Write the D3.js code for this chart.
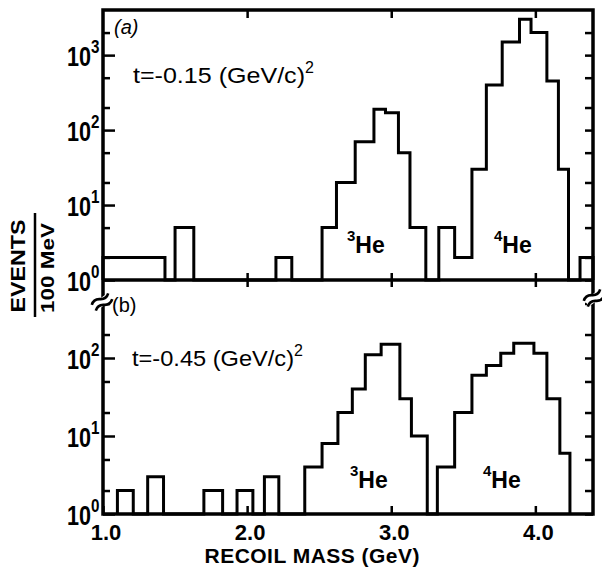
<!DOCTYPE html>
<html><head><meta charset="utf-8">
<script src="https://cdn.jsdelivr.net/npm/d3@7"></script>
<style>body{margin:0;background:#fff} svg{display:block}</style>
</head><body>
<svg id="c" width="602" height="575"></svg>
<script>
// ---- data ----
const xTicks = [1.0, 2.0, 3.0, 4.0];
const xTickLabels = ["1.0", "2.0", "3.0", "4.0"];
// panel (a): t = -0.15 (GeV/c)^2 ; bin edges in GeV and events per bin
const topEdges  = [1.00, 1.43, 1.50, 1.63, 2.20, 2.31, 2.52, 2.62, 2.75, 2.88, 2.96, 3.05, 3.13, 3.24,
                   3.33, 3.44, 3.56, 3.66, 3.77, 3.89, 3.97, 4.08, 4.16, 4.23, 4.31, 4.40];
const topCounts = [2, 0, 5, 0, 2, 0, 5, 20, 70, 190, 170, 50, 5, 0,
                   5, 2, 30, 400, 1500, 3000, 2000, 450, 30, 0, 2];
// panel (b): t = -0.45 (GeV/c)^2
const botEdges  = [1.10, 1.21, 1.31, 1.42, 1.70, 1.83, 1.93, 2.04, 2.12, 2.22, 2.40, 2.52, 2.63, 2.73,
                   2.82, 2.93, 3.06, 3.14, 3.25, 3.32, 3.44, 3.56, 3.66, 3.76, 3.85, 3.99, 4.08, 4.17, 4.24];
const botCounts = [2, 0, 3, 0, 2, 0, 2, 0, 3, 0, 4, 8, 20, 40,
                   110, 150, 30, 10, 0, 4, 20, 60, 80, 115, 155, 115, 30, 6];
const topExp = [0, 1, 2, 3];
const botExp = [0, 1, 2];
const topMinor = [2, 5, 20, 50, 200, 500, 2000];
const botMinor = [2, 5, 20, 50, 200, 500];
const topLabel = "t=-0.15 (GeV/c)";
const botLabel = "t=-0.45 (GeV/c)";
const peakLabels = [{iso: "3", name: "He"}, {iso: "4", name: "He"}];

// ---- drawing ----
const svg = d3.select("#c");
const FONT = "'Liberation Sans', Arial, sans-serif";
const x = d3.scaleLinear().domain([1.0, 4.4]).range([103, 593]);
const yTop = d3.scaleLog().domain([1, 4000]).range([280, 10]);
const yBot = d3.scaleLog().domain([1, 1000]).range([514, 280]);

function hist(edges, counts, y) {
  const pts = [[edges[0], 1]];
  counts.forEach((c, i) => pts.push([edges[i], Math.max(c, 1)]));
  pts.push([edges[edges.length - 1], 1]);
  const line = d3.line().x(d => x(d[0])).y(d => y(d[1])).curve(d3.curveStepAfter);
  svg.append("path").attr("d", line(pts))
    .attr("fill", "none").attr("stroke", "#000").attr("stroke-width", 3)
    .attr("stroke-linejoin", "miter");
}
hist(topEdges, topCounts, yTop);
hist(botEdges, botCounts, yBot);

function yAxes(y, exps, minors, x0, x1) {
  const major = exps.map(e => Math.pow(10, e));
  svg.append("g").attr("transform", `translate(${x0},0)`)
    .call(d3.axisLeft(y).tickValues(major).tickSize(-12).tickSizeOuter(0).tickFormat(""));
  svg.append("g").attr("transform", `translate(${x0},0)`)
    .call(d3.axisLeft(y).tickValues(minors).tickSize(-7).tickSizeOuter(0).tickFormat(""));
  svg.append("g").attr("transform", `translate(${x1},0)`)
    .call(d3.axisRight(y).tickValues(major.concat(minors)).tickSize(-8).tickSizeOuter(0).tickFormat(""));
}
yAxes(yTop, topExp, topMinor, 103, 593);
yAxes(yBot, botExp, botMinor, 103, 593);

// x ticks: top of panel a (inward), middle line (crossing), bottom (inward)
svg.append("g").attr("transform", "translate(0,10)")
  .call(d3.axisTop(x).tickValues(xTicks.slice(1)).tickSize(-8).tickSizeOuter(0).tickFormat(""));
svg.append("g").attr("transform", "translate(0,287)")
  .call(d3.axisTop(x).tickValues(xTicks.slice(1)).tickSize(14).tickSizeOuter(0).tickFormat(""));
svg.append("g").attr("transform", "translate(0,514)")
  .call(d3.axisBottom(x).tickValues(xTicks).tickSize(-8).tickSizeOuter(0).tickFormat(""));
svg.selectAll(".domain").remove();
svg.selectAll(".tick line").attr("stroke", "#000").attr("stroke-width", 2.5);

// frame
svg.append("rect").attr("x", 103).attr("y", 10).attr("width", 490).attr("height", 504)
  .attr("fill", "none").attr("stroke", "#000").attr("stroke-width", 3.5);
svg.append("line").attr("x1", 103).attr("x2", 593).attr("y1", 280).attr("y2", 280)
  .attr("stroke", "#000").attr("stroke-width", 3.5);

// axis breaks
function brk(cx, cy) {
  const g = svg.append("g").attr("transform", `translate(${cx},${cy}) rotate(-35)`);
  g.append("rect").attr("x", -9).attr("y", -4).attr("width", 18).attr("height", 8).attr("fill", "#fff");
  [-3.5, 3.5].forEach(o => g.append("path")
    .attr("d", `M-10,${o} q5,-4 10,0 t10,0`)
    .attr("fill", "none").attr("stroke", "#000").attr("stroke-width", 2.6));
}
brk(102, 302);
brk(594, 298);

// y tick labels: one text per label, "10" with superscript exponent, narrowed like the lettering
function yLabels(y, exps) {
  exps.forEach(e => {
    const ty = y(Math.pow(10, e));
    const t = svg.append("text").attr("transform", `translate(67,${ty + 11}) scale(0.8,1)`)
      .attr("font-family", FONT).attr("font-weight", "bold");
    t.append("tspan").attr("font-size", 27).text("10");
    t.append("tspan").attr("font-size", 19).attr("dy", -13).text(String(e));
  });
}
yLabels(yTop, topExp);
yLabels(yBot, botExp);

// x tick labels
svg.selectAll(".xl").data(xTicks).enter().append("text")
  .attr("x", d => x(d) + 3).attr("y", 540).attr("text-anchor", "middle")
  .attr("font-family", FONT).attr("font-weight", "bold").attr("font-size", 22)
  .text((d, i) => xTickLabels[i]);

// x title
svg.append("text").attr("x", 312).attr("y", 563).attr("text-anchor", "middle")
  .attr("font-family", FONT).attr("font-weight", "bold").attr("font-size", 21)
  .attr("textLength", 215).attr("lengthAdjust", "spacing")
  .text("RECOIL MASS (GeV)");

// y title (fraction)
svg.append("text").attr("transform", "translate(25,266) rotate(-90)").attr("text-anchor", "middle")
  .attr("font-family", FONT).attr("font-weight", "bold").attr("font-size", 21)
  .attr("textLength", 93).attr("lengthAdjust", "spacingAndGlyphs").text("EVENTS");
svg.append("line").attr("x1", 35).attr("x2", 35).attr("y1", 213).attr("y2", 317)
  .attr("stroke", "#000").attr("stroke-width", 2.5);
svg.append("text").attr("transform", "translate(54,268) rotate(-90)").attr("text-anchor", "middle")
  .attr("font-family", FONT).attr("font-weight", "bold").attr("font-size", 19)
  .attr("textLength", 90).attr("lengthAdjust", "spacingAndGlyphs").text("100 MeV");

// panel labels
svg.append("text").attr("x", 114).attr("y", 34).attr("font-family", FONT).attr("font-size", 20)
  .attr("font-style", "italic").text("(a)");
svg.append("text").attr("x", 112).attr("y", 312).attr("font-family", FONT).attr("font-size", 20)
  .text("(b)");

function tLabel(tx, ty, s, len) {
  const t = svg.append("text").attr("x", tx).attr("y", ty).attr("font-family", FONT)
    .attr("font-size", 22);
  t.append("tspan").attr("textLength", len).attr("lengthAdjust", "spacingAndGlyphs").text(s);
  t.append("tspan").attr("dy", -10).attr("font-size", 16).text("2");
}
tLabel(133, 83, topLabel, 172);
tLabel(132, 366, botLabel, 162);

function heLabel(lx, ly, d) {
  const t = svg.append("text").attr("x", lx).attr("y", ly).attr("font-family", FONT)
    .attr("font-weight", "bold");
  t.append("tspan").attr("dy", -12).attr("font-size", 15).text(d.iso);
  t.append("tspan").attr("dy", 12).attr("font-size", 23).text(d.name);
}
heLabel(347, 253, peakLabels[0]);
heLabel(494, 253, peakLabels[1]);
heLabel(350, 488, peakLabels[0]);
heLabel(483, 488, peakLabels[1]);
</script>
</body></html>
